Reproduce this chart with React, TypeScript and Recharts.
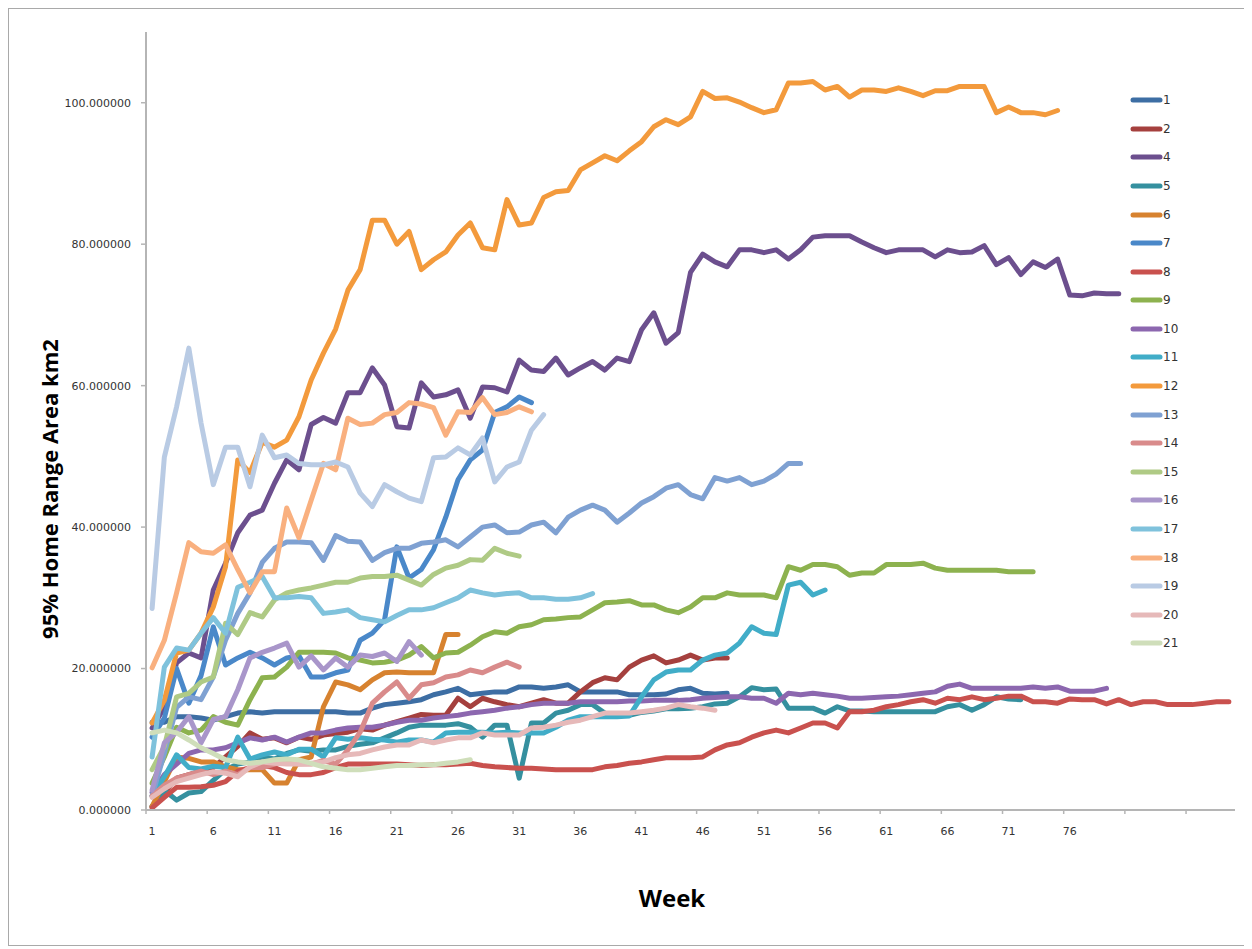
import React from 'react';
import { LineChart, Line, XAxis, YAxis, Legend } from 'recharts';

// Weekly 95% home range area (km2) per animal
const s1 = [12.4, 12.4, 13.2, 13.2, 13.0, 12.7, 13.2, 13.7, 13.9, 13.7,
  13.9, 13.9, 13.9, 13.9, 13.9, 13.9, 13.7, 13.7, 14.4, 14.9,
  15.1, 15.3, 15.6, 16.3, 16.7, 17.2, 16.3, 16.5, 16.7, 16.7,
  17.4, 17.4, 17.2, 17.4, 17.7, 16.7, 16.7, 16.7, 16.7, 16.3,
  16.3, 16.3, 16.4, 17.0, 17.2, 16.5, 16.4, 16.5];
const s2 = [0.5, 2.5, 4.5, 5.0, 5.5, 6.0, 7.5, 9.0, 10.9, 10.0,
  10.2, 9.5, 10.3, 10.0, 10.6, 10.8, 11.0, 11.5, 11.3, 12.0,
  12.5, 13.0, 13.5, 13.4, 13.4, 15.8, 14.6, 15.8, 15.3, 14.9,
  14.6, 15.1, 15.6, 15.1, 15.1, 16.7, 18.0, 18.7, 18.4, 20.2,
  21.2, 21.8, 20.8, 21.2, 21.9, 21.2, 21.5, 21.5];
const s4 = [11.6, 14.5, 20.8, 22.2, 21.5, 31.1, 34.9, 39.2, 41.7, 42.4,
  46.2, 49.5, 48.1, 54.5, 55.5, 54.7, 59.0, 59.0, 62.5, 60.1,
  54.2, 54.0, 60.4, 58.4, 58.7, 59.4, 55.4, 59.8, 59.7, 59.1,
  63.6, 62.2, 62.0, 63.9, 61.5, 62.5, 63.4, 62.2, 63.9, 63.4,
  67.9, 70.3, 66.0, 67.5, 76.0, 78.6, 77.5, 76.8, 79.2, 79.2,
  78.8, 79.2, 77.9, 79.2, 81.0, 81.2, 81.2, 81.2, 80.3, 79.5,
  78.8, 79.2, 79.2, 79.2, 78.2, 79.2, 78.8, 78.9, 79.8, 77.1,
  78.1, 75.7, 77.5, 76.7, 77.9, 72.8, 72.7, 73.1, 73.0, 73.0];
const s5 = [0.5, 2.8, 1.4, 2.4, 2.6, 4.2, 5.7, 6.5, 6.8, 7.5,
  7.2, 8.0, 8.5, 8.3, 8.5, 8.5, 9.0, 9.3, 9.5, 10.2,
  10.9, 11.7, 12.0, 12.0, 12.0, 12.2, 11.7, 10.3, 12.0, 12.0,
  4.5, 12.3, 12.3, 13.7, 14.1, 14.9, 14.9, 13.7, 13.4, 13.4,
  13.8, 14.0, 14.3, 14.3, 14.4, 14.6, 15.0, 15.1, 16.0, 17.3,
  17.0, 17.1, 14.4, 14.4, 14.4, 13.7, 14.6, 14.0, 14.0, 13.9,
  13.9, 13.9, 13.9, 13.9, 13.9, 14.6, 14.9, 14.1, 14.9, 16.0,
  15.7, 15.6];
const s6 = [0.5, 4.0, 7.5, 7.3, 6.8, 6.8, 6.1, 5.7, 5.7, 5.7,
  3.8, 3.8, 7.1, 7.5, 14.6, 18.1, 17.7, 17.0, 18.4, 19.4,
  19.5, 19.4, 19.4, 19.4, 24.8, 24.8];
const s7 = [10.3, 13.0, 20.0, 15.1, 19.0, 25.9, 20.5, 21.5, 22.3, 21.5,
  20.5, 21.5, 21.8, 18.8, 18.8, 19.4, 19.8, 24.0, 25.0, 26.9,
  37.2, 32.8, 34.0, 36.8, 41.4, 46.7, 49.5, 50.9, 56.2, 57.0,
  58.4, 57.6];
const s8 = [0.3, 1.8, 3.2, 3.2, 3.3, 3.5, 4.0, 5.5, 6.0, 6.3,
  6.0, 5.3, 5.0, 5.0, 5.3, 6.0, 6.5, 6.5, 6.5, 6.5,
  6.5, 6.4, 6.3, 6.4, 6.4, 6.5, 6.6, 6.3, 6.1, 6.0,
  5.9, 5.9, 5.8, 5.7, 5.7, 5.7, 5.7, 6.1, 6.3, 6.6,
  6.8, 7.1, 7.4, 7.4, 7.4, 7.5, 8.5, 9.2, 9.5, 10.3,
  10.9, 11.3, 10.9, 11.6, 12.3, 12.3, 11.6, 13.9, 13.9, 14.1,
  14.6, 14.9, 15.3, 15.6, 15.1, 15.8, 15.6, 16.0, 15.6, 15.8,
  16.1, 16.1, 15.3, 15.3, 15.1, 15.7, 15.6, 15.6, 15.0, 15.6,
  14.9, 15.3, 15.3, 14.9, 14.9, 14.9, 15.1, 15.3, 15.3];
const s9 = [3.8, 7.5, 11.7, 10.9, 11.3, 13.2, 12.4, 12.0, 15.6, 18.7,
  18.8, 20.2, 22.3, 22.3, 22.3, 22.2, 21.5, 21.2, 20.8, 20.9,
  21.2, 21.9, 23.1, 21.5, 22.2, 22.3, 23.3, 24.5, 25.2, 25.0,
  25.9, 26.2, 26.9, 27.0, 27.2, 27.3, 28.3, 29.3, 29.4, 29.6,
  29.0, 29.0, 28.3, 27.9, 28.7, 30.0, 30.0, 30.7, 30.4, 30.4,
  30.4, 30.0, 34.4, 33.9, 34.7, 34.7, 34.4, 33.2, 33.5, 33.5,
  34.7, 34.7, 34.7, 34.9, 34.2, 33.9, 33.9, 33.9, 33.9, 33.9,
  33.7, 33.7, 33.7];
const s10 = [2.5, 5.0, 6.5, 8.0, 8.5, 8.5, 8.8, 9.5, 10.2, 9.9,
  10.3, 9.6, 10.3, 10.9, 10.9, 11.3, 11.6, 11.7, 11.7, 12.0,
  12.4, 12.7, 12.7, 13.0, 13.2, 13.4, 13.7, 13.9, 14.1, 14.4,
  14.6, 14.9, 15.1, 15.1, 15.1, 15.3, 15.3, 15.3, 15.3, 15.4,
  15.4, 15.5, 15.5, 15.5, 15.6, 15.8, 15.9, 16.0, 16.0, 15.8,
  15.8, 15.1, 16.5, 16.3, 16.5, 16.3, 16.1, 15.8, 15.8, 15.9,
  16.0, 16.1, 16.3, 16.5, 16.7, 17.5, 17.8, 17.2, 17.2, 17.2,
  17.2, 17.2, 17.4, 17.2, 17.4, 16.8, 16.8, 16.8, 17.2];
const s11 = [2.0, 4.7, 7.8, 6.0, 5.8, 6.2, 6.0, 10.3, 7.2, 7.8,
  8.2, 7.8, 8.6, 8.6, 7.5, 10.2, 10.0, 10.2, 10.0, 9.9,
  9.6, 9.9, 9.9, 9.6, 10.9, 11.0, 11.0, 11.0, 10.9, 11.0,
  10.9, 10.9, 10.9, 11.7, 12.7, 13.2, 13.2, 13.2, 13.2, 13.3,
  16.0, 18.4, 19.5, 19.8, 19.8, 21.2, 21.9, 22.2, 23.6, 25.9,
  25.0, 24.8, 31.8, 32.2, 30.4, 31.1];
const s12 = [12.3, 15.5, 22.2, 22.6, 25.0, 28.7, 34.4, 49.5, 47.7, 52.0,
  51.3, 52.3, 55.6, 60.8, 64.6, 68.0, 73.5, 76.4, 83.4, 83.4,
  80.0, 81.8, 76.4, 77.8, 78.9, 81.3, 83.0, 79.5, 79.2, 86.3,
  82.7, 83.0, 86.6, 87.4, 87.6, 90.5, 91.5, 92.5, 91.8, 93.2,
  94.5, 96.6, 97.6, 96.9, 98.0, 101.6, 100.6, 100.7, 100.1, 99.3,
  98.6, 99.0, 102.8, 102.8, 103.0, 101.8, 102.3, 100.8, 101.8, 101.8,
  101.6, 102.1, 101.6, 101.0, 101.7, 101.7, 102.3, 102.3, 102.3, 98.6,
  99.4, 98.6, 98.6, 98.3, 98.9];
const s13 = [2.0, 8.0, 14.5, 16.0, 15.6, 18.8, 24.0, 27.8, 30.7, 35.0,
  37.0, 37.9, 37.9, 37.8, 35.3, 38.8, 38.0, 37.9, 35.3, 36.4,
  37.0, 37.0, 37.7, 37.9, 38.2, 37.2, 38.6, 40.0, 40.3, 39.2,
  39.3, 40.3, 40.7, 39.2, 41.4, 42.4, 43.1, 42.4, 40.7, 42.0,
  43.4, 44.3, 45.5, 46.0, 44.6, 44.0, 47.0, 46.5, 47.0, 46.0,
  46.5, 47.5, 49.0, 49.0];
const s14 = [2.0, 3.5, 4.5, 5.0, 5.5, 5.0, 5.5, 5.0, 6.0, 6.0,
  6.5, 7.0, 6.5, 6.5, 7.0, 6.5, 8.5, 11.0, 15.1, 16.7,
  18.1, 15.8, 17.7, 18.0, 18.8, 19.1, 19.8, 19.4, 20.2, 20.9,
  20.2];
const s15 = [5.7, 9.0, 16.0, 16.5, 18.1, 18.8, 26.4, 24.8, 27.9, 27.3,
  29.7, 30.7, 31.1, 31.4, 31.8, 32.2, 32.2, 32.8, 33.0, 33.0,
  33.2, 32.5, 31.8, 33.3, 34.2, 34.6, 35.4, 35.3, 37.0, 36.3,
  35.9];
const s16 = [2.8, 9.5, 11.0, 13.2, 9.5, 12.8, 13.2, 17.0, 21.5, 22.3,
  22.9, 23.6, 20.2, 21.8, 19.8, 21.5, 20.2, 21.9, 21.7, 22.2,
  21.0, 23.8, 21.9];
const s17 = [7.5, 20.2, 22.9, 22.6, 25.0, 27.2, 25.0, 31.5, 32.2, 33.0,
  30.0, 30.0, 30.2, 30.0, 27.8, 28.0, 28.3, 27.2, 26.9, 26.6,
  27.5, 28.3, 28.3, 28.6, 29.3, 30.0, 31.1, 30.7, 30.4, 30.6,
  30.7, 30.0, 30.0, 29.8, 29.8, 30.0, 30.6];
const s18 = [20.1, 24.0, 30.7, 37.8, 36.5, 36.3, 37.5, 34.0, 30.7, 33.7,
  33.7, 42.7, 38.5, 43.8, 49.0, 48.1, 55.4, 54.5, 54.7, 55.9,
  56.2, 57.6, 57.4, 56.9, 53.0, 56.3, 56.2, 58.3, 55.9, 56.2,
  57.0, 56.3];
const s19 = [28.5, 49.9, 57.0, 65.3, 54.7, 46.0, 51.3, 51.3, 45.7, 53.0,
  49.8, 50.2, 49.0, 48.8, 48.8, 49.2, 48.5, 44.8, 42.9, 46.0,
  45.0, 44.1, 43.6, 49.8, 49.9, 51.2, 50.2, 52.6, 46.4, 48.5,
  49.2, 53.7, 55.9];
const s20 = [1.8, 3.0, 4.0, 4.5, 5.0, 5.4, 5.2, 4.7, 6.1, 6.8,
  6.6, 6.5, 6.5, 6.6, 6.8, 7.4, 7.8, 8.0, 8.5, 8.9,
  9.2, 9.2, 9.9, 9.5, 9.9, 10.2, 10.2, 10.9, 10.6, 10.6,
  10.6, 11.6, 11.7, 12.0, 12.4, 12.7, 13.2, 13.7, 13.7, 13.7,
  13.9, 14.1, 14.4, 14.9, 14.6, 14.4, 14.1];
const s21 = [10.9, 11.3, 10.9, 9.9, 8.8, 8.0, 7.1, 6.8, 6.6, 6.8,
  7.1, 7.2, 7.1, 6.6, 6.1, 5.9, 5.7, 5.7, 5.9, 6.1,
  6.3, 6.3, 6.4, 6.4, 6.6, 6.8, 7.1];

const seriesNames = ['1', '2', '4', '5', '6', '7', '8', '9', '10', '11',
  '12', '13', '14', '15', '16', '17', '18', '19', '20', '21'];
const seriesValues = [s1, s2, s4, s5, s6, s7, s8, s9, s10, s11,
  s12, s13, s14, s15, s16, s17, s18, s19, s20, s21];
const seriesColors = ['#3d6ea4', '#a5403e', '#6c4f8e', '#35909f', '#d7822f',
  '#4a88c9', '#c9514e', '#8db24f', '#8c67af', '#41adc8',
  '#f39a3c', '#7fa1d2', '#d98b8b', '#afca85', '#a996ca',
  '#7fc2dc', '#f9b07f', '#b9cbe4', '#e6b9b9', '#cfdeba'];

// Week categories (1..89); labels are only printed up to week 80
const weekCount = 89;
const weeks = Array.from({ length: weekCount }, (_, i) => i + 1);
const lastLabelledWeek = 80;
const xTicks = [0.5, 5.5, 10.5, 15.5, 20.5, 25.5, 30.5, 35.5, 40.5, 45.5,
  50.5, 55.5, 60.5, 65.5, 70.5, 75.5, 80.5, 85.5];
const yTicks = [0, 20, 40, 60, 80, 100];

const data = weeks.map((week, i) => {
  const row: Record<string, number> = { week };
  seriesValues.forEach((vals, k) => {
    if (i < vals.length) row['s' + seriesNames[k]] = vals[i];
  });
  return row;
});

const tickFont = '"DejaVu Sans", sans-serif';
const titleFont = '"Open Sans", "DejaVu Sans", sans-serif';

const WeekTick = (props: any) => {
  const { x, y, payload } = props;
  const label = payload.value + 0.5;
  if (label > lastLabelledWeek) return null;
  return (
    <text x={x + 6.1} y={y + 19} textAnchor="middle" fontFamily={tickFont} fontSize={11} fill="#333">
      {label}
    </text>
  );
};

const renderLegend = () => (
  <div style={{ width: 70 }}>
    {seriesNames.map((name, k) => (
      <div key={name} style={{ height: 28.58, display: 'flex', alignItems: 'center' }}>
        <svg width={33} height={8} style={{ display: 'block' }}>
          <line x1={3} y1={4} x2={30} y2={4} stroke={seriesColors[k]} strokeWidth={5} strokeLinecap="round" />
        </svg>
        <span style={{ fontFamily: tickFont, fontSize: 12, color: '#333', lineHeight: '14px' }}>{name}</span>
      </div>
    ))}
  </div>
);

export default function App() {
  return (
    <div style={{ width: 1237, height: 936, border: '1px solid #a9a9a9', background: '#fff' }}>
      <LineChart width={1237} height={936} data={data}
        margin={{ top: 23, right: 11, bottom: 105, left: 57 }}>
        <XAxis dataKey="week" type="number" domain={[0.5, weekCount + 0.5]} ticks={xTicks}
          interval={0} height={30} tick={<WeekTick />} tickSize={4}
          axisLine={{ stroke: '#b5b5b5', strokeWidth: 2 }} tickLine={{ stroke: '#b5b5b5', strokeWidth: 1.5 }}
          label={{
            content: () => (
              <text x={663} y={888} textAnchor="middle" dominantBaseline="central"
                fontFamily={titleFont} fontWeight="bold" fontSize={24} fill="#000">Week</text>
            ),
          }} />
        <YAxis type="number" domain={[0, 110]} ticks={yTicks} width={80} interval={0}
          tickFormatter={(v: number) => v.toFixed(6)} tickSize={5} tickMargin={10}
          tick={{ fontFamily: tickFont, fontSize: 11, fill: '#333' }}
          axisLine={{ stroke: '#b5b5b5', strokeWidth: 2 }} tickLine={{ stroke: '#b5b5b5', strokeWidth: 1.5 }}
          label={{
            content: () => (
              <text x={40} y={480} transform="rotate(-90 40 480)" textAnchor="middle" dominantBaseline="central"
                fontFamily={titleFont} fontWeight="bold" fontSize={22} fill="#000">95% Home Range Area km2</text>
            ),
          }} />
        <Legend layout="vertical" align="center" verticalAlign="middle" content={renderLegend}
          wrapperStyle={{ left: 1121, top: 77, width: 70, height: 575 }} />
        {seriesNames.map((name, k) => (
          <Line key={name} dataKey={'s' + name} name={name} stroke={seriesColors[k]} strokeWidth={5}
            strokeLinejoin="round" strokeLinecap="round" dot={false} activeDot={false}
            isAnimationActive={false} connectNulls={false} />
        ))}
      </LineChart>
    </div>
  );
}
